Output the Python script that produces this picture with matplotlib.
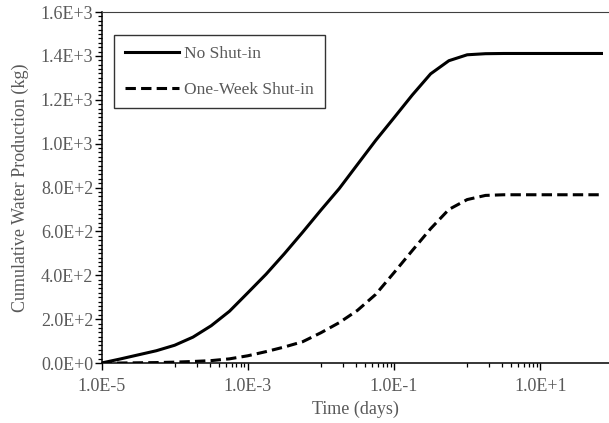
import matplotlib
matplotlib.use("Agg")
import matplotlib.pyplot as plt
import matplotlib.ticker as ticker
from matplotlib.lines import Line2D

plt.rcParams["font.family"] = ["Liberation Serif", "DejaVu Serif"]

# Cumulative water production (kg) vs. time (days)
time_no_shutin = [1.0e-5, 1.78e-5, 3.16e-5, 5.62e-5, 1.0e-4, 1.78e-4, 3.16e-4,
                  5.62e-4, 1.0e-3, 1.78e-3, 3.16e-3, 5.62e-3, 1.0e-2, 1.78e-2,
                  3.16e-2, 5.62e-2, 0.1, 0.178, 0.316, 0.562, 1.0, 1.78,
                  3.16, 72.0]
water_no_shutin = [0, 18, 37, 56, 81, 118, 170,
                   236, 320, 405, 498, 596, 697, 795,
                   905, 1015, 1118, 1222, 1318, 1378, 1405, 1410,
                   1411, 1411]

time_shutin = [1.0e-5, 1.78e-5, 3.16e-5, 5.62e-5, 1.0e-4, 1.78e-4, 3.16e-4,
               5.62e-4, 1.0e-3, 1.78e-3, 3.16e-3, 5.62e-3, 1.0e-2, 1.78e-2,
               3.16e-2, 5.62e-2, 0.1, 0.178, 0.316, 0.562, 1.0, 1.78,
               3.16, 72.0]
water_shutin = [0, 0, 1, 2, 4, 7, 11,
                19, 33, 52, 73, 97, 138, 184,
                240, 313, 412, 513, 612, 700, 745, 764,
                767, 767]

series_labels = ["No Shut-in", "One-Week Shut-in"]
x_major = [1e-5, 1e-3, 1e-1, 1e1]
y_major = [0, 200, 400, 600, 800, 1000, 1200, 1400, 1600]

GREY = "#595959"
DASH = (0, (3.4, 1.7))


def sci_label(v, pos=None):
    mant, exp = f"{v:.1E}".split("E")
    return f"{mant}E{int(exp):+d}"


fig = plt.figure(figsize=(6.09, 4.23), dpi=100)
ax = fig.add_axes([0.1667, 0.1418, 0.8333, 0.8298])

ax.plot(time_no_shutin, water_no_shutin, color="black", lw=2.2,
        solid_capstyle="butt", solid_joinstyle="round")
ax.plot(time_shutin, water_shutin, color="black", lw=2.2, linestyle=DASH,
        dash_capstyle="butt", dash_joinstyle="round")

ax.set_xscale("log")
ax.set_xlim(1e-5, 87)
ax.set_ylim(0, 1600)

# major tick every two decades, minor ticks only in the decade after each major
ax.xaxis.set_major_locator(ticker.FixedLocator(x_major))
minor = [m * 10 * k for m in x_major for k in range(1, 10)]
ax.xaxis.set_minor_locator(ticker.FixedLocator(minor))
ax.xaxis.set_major_formatter(ticker.FuncFormatter(sci_label))
ax.xaxis.set_minor_formatter(ticker.NullFormatter())

ax.yaxis.set_major_locator(ticker.FixedLocator(y_major))
ax.yaxis.set_minor_locator(ticker.MultipleLocator(20))
ax.yaxis.set_major_formatter(ticker.FuncFormatter(sci_label))

ax.tick_params(axis="both", which="major", direction="out", length=5, width=1.0,
               labelsize=13, labelcolor=GREY)
ax.tick_params(axis="y", which="major", pad=1)
ax.tick_params(axis="x", which="major", pad=6)
ax.tick_params(axis="both", which="minor", direction="out", length=3, width=0.9)

ax.spines["right"].set_visible(False)
ax.spines["top"].set_linewidth(0.8)
ax.spines["top"].set_color("#404040")
ax.spines["left"].set_linewidth(1.1)
ax.spines["bottom"].set_linewidth(1.1)

ax.set_xlabel("Time (days)", fontsize=13, color=GREY, labelpad=4)
ax.set_ylabel("Cumulative Water Production (kg)", fontsize=13, color=GREY,
              labelpad=8)

handles = [Line2D([], [], color="black", lw=2.2),
           Line2D([], [], color="black", lw=2.2, linestyle=DASH)]
leg = ax.legend(handles, series_labels, loc="upper left",
                bbox_to_anchor=(0.025, 0.934), fontsize=12.5, frameon=True,
                fancybox=False, edgecolor="black", handlelength=3.1,
                handletextpad=0.3, labelspacing=1.12, borderpad=0.62,
                borderaxespad=0)
leg.get_frame().set_linewidth(1.0)
for t in leg.get_texts():
    t.set_color(GREY)

fig.savefig("out.png", dpi=100)
